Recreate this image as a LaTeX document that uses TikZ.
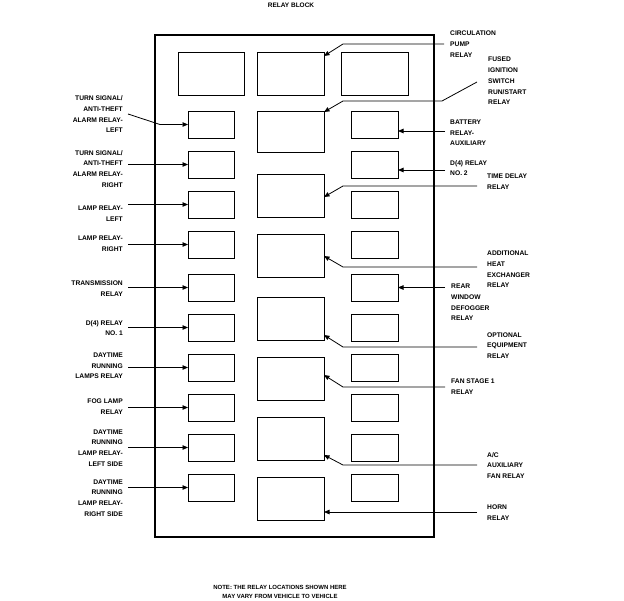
\documentclass[tikz,border=0pt]{standalone}
\usepackage{fontspec}
\setmainfont{Liberation Sans}
\usetikzlibrary{arrows.meta}
\begin{document}
\begin{tikzpicture}[x=1pt,y=-1pt,
  frame/.style={draw,line width=2pt},
  relay/.style={draw,line width=0.9pt,inner sep=0pt,outer sep=0pt},
  sbox/.style={relay,minimum width=46pt,minimum height=27pt},
  rbox/.style={relay,minimum width=47pt,minimum height=27pt},
  mbox/.style={relay,minimum width=67pt,minimum height=43pt},
  lbl/.style={font=\fontsize{6.7}{10.7}\selectfont\bfseries,inner sep=0pt},
  lbll/.style={lbl,anchor=east,align=right},
  lblr/.style={lbl,anchor=west,align=left},
  arr/.style={line width=0.8pt,-{Triangle[length=5.5pt,width=4.5pt]}}]
\useasboundingbox (0,0) rectangle (624,600);
% title and note
\node[lbl,font=\fontsize{6.5}{8}\selectfont\bfseries] (title) at (291,5) {RELAY BLOCK};
\node[lbl,font=\fontsize{6}{9}\selectfont\bfseries,align=center] (note) at (280,591.5) {NOTE: THE RELAY LOCATIONS SHOWN HERE\\MAY VARY FROM VEHICLE TO VEHICLE};
% frame
\node[frame,inner sep=0pt,minimum width=279pt,minimum height=502pt] (blk) at (294.5,286) {};
% top row
\node[relay,minimum width=66pt,minimum height=43pt] (T1) at (211,73.5) {};
\node[mbox] (M0) at (290.5,73.5) {};
\node[mbox] (T3) at (374.5,73.5) {};
% left and right columns
\foreach \i/\t in {1/111,2/151,3/191,4/231,5/274,6/314,7/354,8/394,9/434,10/474}{
  \node[sbox] (L\i) at (211,\t+13.5) {};
  \node[rbox] (R\i) at (374.5,\t+13.5) {};
}
% middle column
\node[mbox,minimum height=41pt] (M1) at (290.5,131.5) {};
\foreach \i/\t in {2/174,3/234,4/297,5/357,6/417,7/477}{
  \node[mbox] (M\i) at (290.5,\t+21.5) {};
}
% left labels
\node[lbll] (lt1) at (123,114.5) {TURN SIGNAL/\\ANTI-THEFT\\ALARM RELAY-\\LEFT};
\node[lbll] (lt2) at (123,168.7) {TURN SIGNAL/\\ANTI-THEFT\\ALARM RELAY-\\RIGHT};
\node[lbll] (lt3) at (123,214) {LAMP RELAY-\\LEFT};
\node[lbll] (lt4) at (123,244) {LAMP RELAY-\\RIGHT};
\node[lbll] (lt5) at (123,288.5) {TRANSMISSION\\RELAY};
\node[lbll] (lt6) at (123,328) {D(4) RELAY\\NO. 1};
\node[lbll] (lt7) at (123,366) {DAYTIME\\RUNNING\\LAMPS RELAY};
\node[lbll] (lt8) at (123,407) {FOG LAMP\\RELAY};
\node[lbll] (lt9) at (123,448) {DAYTIME\\RUNNING\\LAMP RELAY-\\LEFT SIDE};
\node[lbll] (lt10) at (123,498) {DAYTIME\\RUNNING\\LAMP RELAY-\\RIGHT SIDE};
% right labels
\node[lblr] (rt1) at (450,44) {CIRCULATION\\PUMP\\RELAY};
\node[lblr] (rt2) at (488,81) {FUSED\\IGNITION\\SWITCH\\RUN/START\\RELAY};
\node[lblr] (rt3) at (450,133) {BATTERY\\RELAY-\\AUXILIARY};
\node[lblr] (rt4) at (450,168) {D(4) RELAY\\NO. 2};
\node[lblr] (rt5) at (487,182) {TIME DELAY\\RELAY};
\node[lblr] (rt6) at (487,269.5) {ADDITIONAL\\HEAT\\EXCHANGER\\RELAY};
\node[lblr] (rt7) at (451,302.5) {REAR\\WINDOW\\DEFOGGER\\RELAY};
\node[lblr] (rt8) at (487,345.5) {OPTIONAL\\EQUIPMENT\\RELAY};
\node[lblr] (rt9) at (451,387) {FAN STAGE 1\\RELAY};
\node[lblr] (rt10) at (487,465.5) {A/C\\AUXILIARY\\FAN RELAY};
\node[lblr] (rt11) at (487,513) {HORN\\RELAY};
% left connectors
\coordinate (a1) at (128,114);
\coordinate (b1) at (160,124.5);
\draw[arr] (a1) -- (b1) -- (L1.west);
\foreach \i in {2,...,10}{
  \coordinate (a\i) at (L\i.west -| 128,0);
  \draw[arr] (a\i) -- (L\i.west);
}
% right connectors
\coordinate (c1a) at (444,44);
\coordinate (c1b) at (343,44);
\draw[arr] (c1a) -- (c1b) -- (M0.east |- 0,56);
\coordinate (c2a) at (477,82);
\coordinate (c2b) at (442,101);
\coordinate (c2c) at (343,101);
\draw[arr] (c2a) -- (c2b) -- (c2c) -- (M1.east |- 0,112);
\coordinate (c3a) at (445,131);
\draw[arr] (c3a) -- (R1.east |- c3a);
\coordinate (c4a) at (445,170);
\draw[arr] (c4a) -- (R2.east |- c4a);
\coordinate (c5a) at (477,186);
\coordinate (c5b) at (343,186);
\draw[arr] (c5a) -- (c5b) -- (M2.east |- 0,197);
\coordinate (c6a) at (477,267);
\coordinate (c6b) at (343,267);
\draw[arr] (c6a) -- (c6b) -- (M3.east |- 0,256);
\coordinate (c7a) at (445,287.5);
\draw[arr] (c7a) -- (R5.east);
\coordinate (c8a) at (477,347);
\coordinate (c8b) at (343,347);
\draw[arr] (c8a) -- (c8b) -- (M4.east |- 0,335);
\coordinate (c9a) at (445,387);
\coordinate (c9b) at (343,387);
\draw[arr] (c9a) -- (c9b) -- (M5.east |- 0,375);
\coordinate (c10a) at (477,465);
\coordinate (c10b) at (343,465);
\draw[arr] (c10a) -- (c10b) -- (M6.east |- 0,455);
\coordinate (c11a) at (477,512);
\draw[arr] (c11a) -- (M7.east |- c11a);
\end{tikzpicture}
\end{document}
